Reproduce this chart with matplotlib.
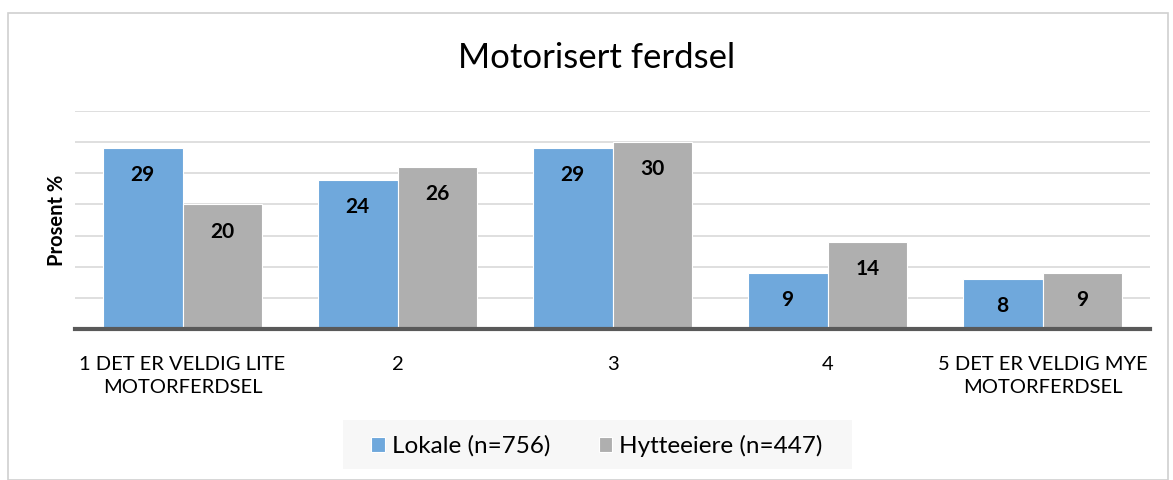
import matplotlib.pyplot as plt
import numpy as np
from matplotlib.patches import Rectangle

categories = ["1 DET ER VELDIG LITE\nMOTORFERDSEL", "2", "3", "4", "5 DET ER VELDIG MYE\nMOTORFERDSEL"]
lokale = [29, 24, 29, 9, 8]
hytteeiere = [20, 26, 30, 14, 9]
series_names = ["Lokale (n=756)", "Hytteeiere (n=447)"]

plt.rcParams["font.family"] = ["Lato", "DejaVu Sans"]

fig = plt.figure(figsize=(11.73, 4.8), dpi=100)
ax = fig.add_axes([75 / 1173, 1 - 329 / 480, (1150 - 75) / 1173, (329 - 111) / 480])

x = np.arange(len(categories))
w = 0.372
b1 = ax.bar(x - w / 2, lokale, w, color="#6FA8DC", edgecolor="white", linewidth=0.8, zorder=2, label=series_names[0])
b2 = ax.bar(x + w / 2, hytteeiere, w, color="#AFAFAF", edgecolor="white", linewidth=0.8, zorder=2, label=series_names[1])

for bars in (b1, b2):
    for r in bars:
        ax.annotate(f"{r.get_height():.0f}", (r.get_x() + r.get_width() / 2, r.get_height()),
                    xytext=(0, -19.5), textcoords="offset points", ha="center", va="center",
                    fontsize=15, fontweight="bold", color="black", zorder=3)

ax.set_xlim(-0.5, 4.5)
ax.set_ylim(0, 35)
ax.set_yticks(np.arange(5, 36, 5))
ax.tick_params(axis="y", left=False, labelleft=False)
ax.tick_params(axis="x", bottom=False, labelsize=14.5, pad=16)
ax.set_xticks(x)
ax.set_xticklabels(categories, linespacing=1.45)
ax.grid(axis="y", color="#D9D9D9", linewidth=1.2, zorder=0)
for s in ["top", "right", "left"]:
    ax.spines[s].set_visible(False)
ax.spines["bottom"].set_color("#595959")
ax.spines["bottom"].set_linewidth(3)
ax.spines["bottom"].set_zorder(4)
ax.set_ylabel("Prosent %", fontsize=14.5, fontweight="bold", labelpad=6)

fig.text(597 / 1173, 1 - 58 / 480, "Motorisert ferdsel", ha="center", va="center", fontsize=25)

# outer frame and legend background
fig.patches.append(Rectangle((8 / 1173, 0), 1160 / 1173, 1 - 13 / 480, transform=fig.transFigure,
                             fill=False, edgecolor="#D0D0D0", linewidth=1.2))
fig.patches.append(Rectangle((343 / 1173, 1 - 469 / 480), (852 - 343) / 1173, 49 / 480,
                             transform=fig.transFigure, facecolor="#F7F7F7", edgecolor="none"))

fig.legend(loc="center", bbox_to_anchor=(597 / 1173, 1 - 446 / 480), ncol=2, frameon=False,
           fontsize=17.5, handlelength=0.55, handleheight=0.55, handletextpad=0.3, columnspacing=2.0)

fig.savefig("out.png", dpi=100)
